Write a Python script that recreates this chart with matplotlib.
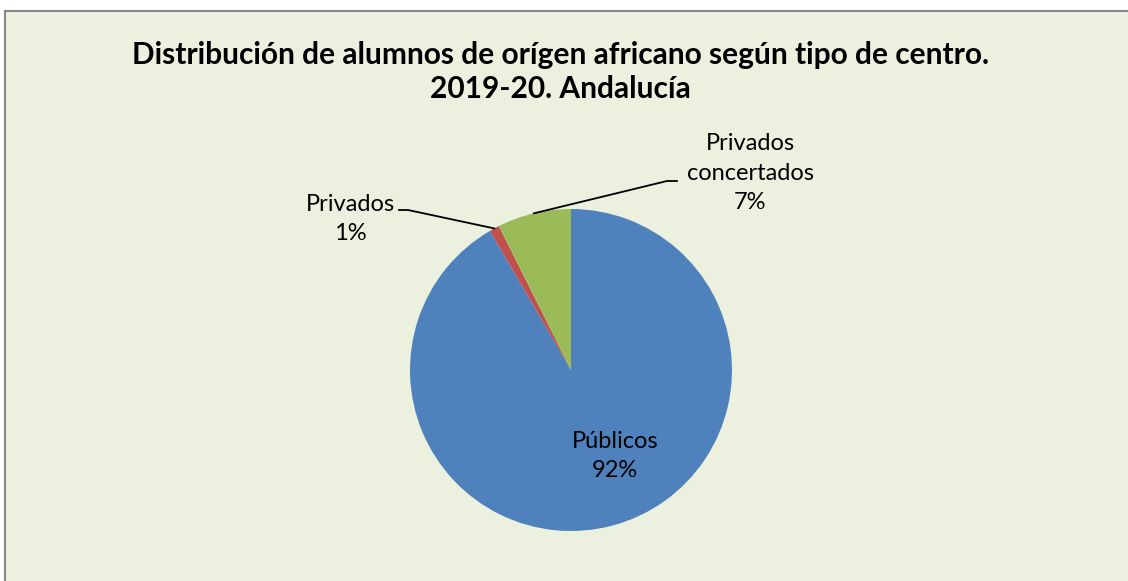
import numpy as np
import matplotlib.pyplot as plt
from matplotlib.patches import Rectangle

plt.rcParams['font.family'] = ['Lato', 'DejaVu Sans']

# data
categories = ["Públicos", "Privados", "Privados concertados"]
shares = [91.6, 1.0, 7.4]
colors = ["#4F81BD", "#C0504D", "#9BBB59"]
title = "Distribución de alumnos de orígen africano según tipo de centro.\n2019-20. Andalucía"

W, H = 1128, 581
fig = plt.figure(figsize=(W / 100, H / 100), dpi=100)
fig.patch.set_facecolor("white")
ax = fig.add_axes([0, 0, 1, 1])

# chart area frame
ax.add_patch(Rectangle((5, -10), W + 10, H - 11 + 10, facecolor="#EBF1DE",
                       edgecolor="#878787", linewidth=1.5, zorder=0))

cx, cy, r = 571, H - 370, 161
wedges, _ = ax.pie(shares, colors=colors, startangle=90, counterclock=False,
                   center=(cx, cy), radius=r, frame=True,
                   wedgeprops=dict(linewidth=0))
ax.set_xlim(0, W)
ax.set_ylim(0, H)
ax.set_aspect("equal")
ax.axis("off")

ax.text(W / 2 - 4, H - 72, title, ha="center", va="center", fontsize=21.5,
        fontweight="bold", linespacing=1.3)

lbl = [f"{c.replace(' ', chr(10))}\n{round(s)}%" for c, s in zip(categories, shares)]
fs, ls = 17, 1.5

# Públicos inside
ax.text(615, H - 456, lbl[0], ha="center", va="center", fontsize=fs, linespacing=ls)


def edge_point(w, rad):
    a = np.deg2rad((w.theta1 + w.theta2) / 2)
    return cx + rad * np.cos(a), cy + rad * np.sin(a)


# Privados
px, py = edge_point(wedges[1], r)
ax.plot([px, 408, 399], [py, H - 210, H - 210], color="black", lw=1.3)
ax.text(350, H - 219, lbl[1], ha="center", va="center", fontsize=fs, linespacing=ls)

# Privados concertados
gx, gy = edge_point(wedges[2], r)
ax.plot([gx, 667, 677], [gy, H - 181, H - 181], color="black", lw=1.3)
ax.text(750, H - 173, lbl[2], ha="center", va="center", fontsize=fs, linespacing=ls)

fig.savefig("out.png", dpi=100, facecolor=fig.get_facecolor())
